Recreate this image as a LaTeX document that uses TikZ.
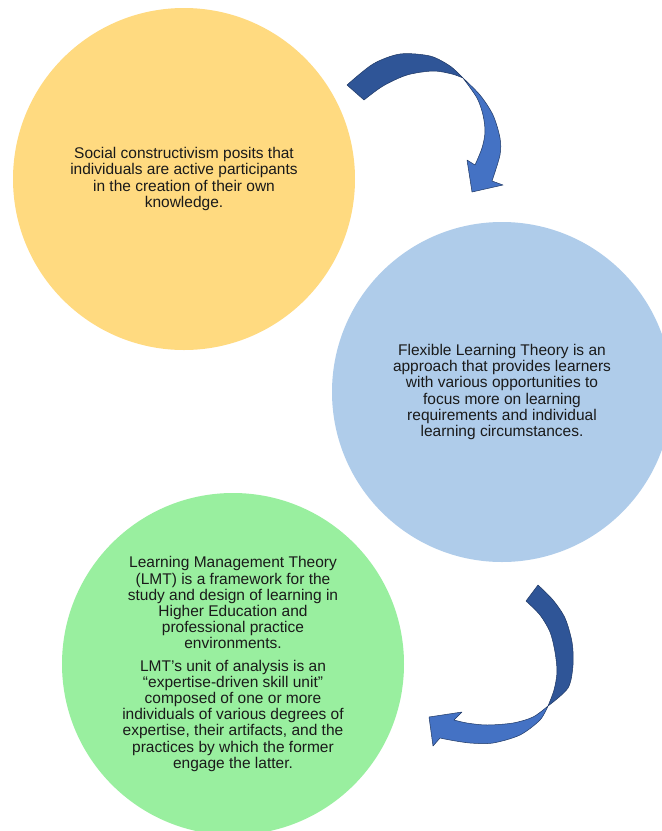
\documentclass[tikz,border=0pt]{standalone}
\usepackage{fontspec}
\setmainfont{Liberation Sans}
\definecolor{ycirc}{HTML}{FFDA80}
\definecolor{bcirc}{HTML}{AFCCEA}
\definecolor{gcirc}{HTML}{99EF9F}
\definecolor{adark}{HTML}{2F5597}
\definecolor{alight}{HTML}{4472C4}
\definecolor{aline}{HTML}{1F3864}
\definecolor{txt}{HTML}{1A1A1A}
\begin{document}
\begin{tikzpicture}[x=1pt,y=-1pt,
  bubble/.style={circle, inner sep=0pt, minimum size=342pt, align=center,
    text=txt, font=\fontsize{15.5}{16.2}\selectfont},
  darkpart/.style={fill=adark, draw=aline, line width=0.5pt, line join=round},
  lightpart/.style={fill=alight, draw=aline, line width=0.5pt, line join=round}]
\useasboundingbox (0,0) rectangle (662,831);
\clip (0,0) rectangle (662,831);
\fill[white] (0,0) rectangle (662,831);

\node[bubble, fill=ycirc] (social) at (184,179) {Social constructivism posits that\\individuals are active participants\\in the creation of their own\\knowledge.};

\node[bubble, fill=bcirc, minimum size=340pt] (flex) at (502,392) {Flexible Learning Theory is an\\approach that provides learners\\with various opportunities to\\focus more on learning\\requirements and individual\\learning circumstances.};

\node[bubble, fill=gcirc] (lmt) at (233,664) {Learning Management Theory\\(LMT) is a framework for the\\study and design of learning in\\Higher Education and\\professional practice\\environments.\\[6pt]LMT’s unit of analysis is an\\“expertise-driven skill unit”\\composed of one or more\\individuals of various degrees of\\expertise, their artifacts, and the\\practices by which the former\\engage the latter.};

% top curved arrow (social -> flex)
\path[darkpart] plot[smooth] coordinates {(347,85) (373,64) (400,54) (430,56) (450,66) (463,78)}
  -- plot[smooth] coordinates {(463,78) (452,74) (433,71) (407,75) (383,86) (364,100)} -- cycle;
\path[lightpart] plot[smooth] coordinates {(463,78) (480,95) (493,115) (500,138) (500,155) (492,181)}
  -- (503,185) -- (472,192) -- (467,160) -- (475,165)
  -- plot[smooth] coordinates {(475,165) (482,148) (485,132) (483,115) (477,98) (463,78)} -- cycle;

% bottom curved arrow (flex -> lmt)
\path[darkpart] plot[smooth] coordinates {(538,585) (553,600) (565,618) (572,642) (573,665) (568,688) (548,706)}
  -- plot[smooth] coordinates {(548,706) (554,690) (557,672) (555,652) (550,632) (540,615) (526,601)} -- cycle;
\path[lightpart] plot[smooth] coordinates {(548,706) (540,720) (520,735) (493,743) (470,743) (450,740) (440,738)}
  -- (433,746) -- (429,717) -- (462,712) -- (454,720)
  -- plot[smooth] coordinates {(454,720) (467,723) (487,725) (513,723) (533,717) (548,706)} -- cycle;
\end{tikzpicture}
\end{document}
